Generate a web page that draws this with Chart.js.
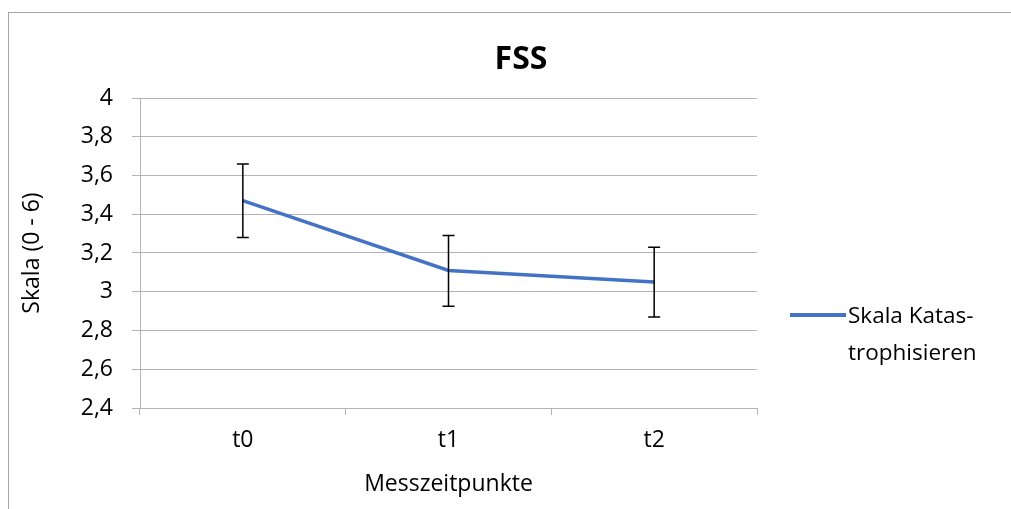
<!DOCTYPE html>
<html>
<head>
<meta charset="utf-8">
<script src="https://cdn.jsdelivr.net/npm/chart.js@4.4.0/dist/chart.umd.min.js"></script>
<style>
  html, body { margin: 0; padding: 0; background: #fff; }
  #wrap { position: relative; width: 1011px; height: 509px; overflow: hidden; font-family: "Open Sans", sans-serif; color: #000; }
  #frame { position: absolute; left: 8px; top: 12px; width: 1100px; height: 600px; border: 1px solid #a6a6a6; box-sizing: border-box; }
  #c { position: absolute; left: 0; top: 0; }
  #title { position: absolute; left: 421px; width: 200px; top: 37px; text-align: center; font-weight: bold; font-size: 32px; line-height: 40px; }
  #legline { position: absolute; left: 790px; top: 313px; width: 56px; height: 4px; background: #4472C4; }
  #legtext { position: absolute; left: 848px; top: 296px; font-size: 22.5px; line-height: 37px; white-space: nowrap; }
</style>
</head>
<body>
<div id="wrap">
  <div id="frame"></div>
  <canvas id="c" width="1011" height="509"></canvas>
  <div id="title">FSS</div>
  <div id="legline"></div>
  <div id="legtext">Skala Katas-<br>trophisieren</div>
</div>
<script>
const categories = ['t0', 't1', 't2'];
const seriesName = 'Skala Katastrophisieren';
const means = [3.47, 3.11, 3.05];
const errPlus = [0.19, 0.18, 0.18];
const errMinus = [0.19, 0.185, 0.18];
const yTickValues = [2.4, 2.6, 2.8, 3.0, 3.2, 3.4, 3.6, 3.8, 4.0];
const yTickLabels = ['2,4', '2,6', '2,8', '3', '3,2', '3,4', '3,6', '3,8', '4'];

const gridColor = '#b4b4b4';
const fontFam = '"Open Sans", sans-serif';
const fs = 23;

const errorBars = {
  id: 'errorBars',
  afterDatasetsDraw(chart) {
    const ctx = chart.ctx;
    const xs = chart.scales.x, ys = chart.scales.y;
    ctx.save();
    ctx.strokeStyle = '#000';
    ctx.lineWidth = 1.5;
    for (let i = 0; i < means.length; i++) {
      const x = xs.getPixelForValue(i);
      const yt = ys.getPixelForValue(means[i] + errPlus[i]);
      const yb = ys.getPixelForValue(means[i] - errMinus[i]);
      ctx.beginPath();
      ctx.moveTo(x, yt); ctx.lineTo(x, yb);
      ctx.moveTo(x - 6, yt); ctx.lineTo(x + 6, yt);
      ctx.moveTo(x - 6, yb); ctx.lineTo(x + 6, yb);
      ctx.stroke();
    }
    ctx.restore();
  }
};

new Chart(document.getElementById('c'), {
  type: 'line',
  data: {
    labels: categories,
    datasets: [{
      label: seriesName,
      data: means,
      borderColor: '#4472C4',
      backgroundColor: '#4472C4',
      borderWidth: 3.5,
      pointRadius: 0,
      tension: 0,
      fill: false
    }]
  },
  options: {
    responsive: false,
    animation: false,
    devicePixelRatio: 1,
    layout: { padding: { top: 98, right: 254, left: 0, bottom: 0 } },
    plugins: { legend: { display: false }, title: { display: false }, tooltip: { enabled: false } },
    scales: {
      x: {
        offset: true,
        grid: { drawOnChartArea: false, offset: true, tickLength: 7, color: gridColor },
        border: { color: gridColor },
        ticks: { padding: 12, color: '#000', font: { family: fontFam, size: fs } },
        title: { display: true, text: 'Messzeitpunkte', color: '#000', font: { family: fontFam, size: fs }, padding: { top: 0, bottom: 11 } },
        afterFit(scale) { scale.height = 101; }
      },
      y: {
        min: 2.4, max: 4,
        afterBuildTicks(scale) { scale.ticks = yTickValues.map(v => ({ value: v })); },
        ticks: {
          padding: 19, color: '#000', font: { family: fontFam, size: fs },
          callback(value) {
            const idx = yTickValues.findIndex(v => Math.abs(v - value) < 1e-6);
            return idx >= 0 ? yTickLabels[idx] : '';
          }
        },
        grid: { color: gridColor, tickLength: 8 },
        border: { color: gridColor },
        title: { display: true, text: 'Skala (0 - 6)', color: '#000', font: { family: fontFam, size: fs }, padding: { top: 19, bottom: 0 } },
        afterFit(scale) { scale.width = 140; }
      }
    }
  },
  plugins: [errorBars]
});
</script>
</body>
</html>
